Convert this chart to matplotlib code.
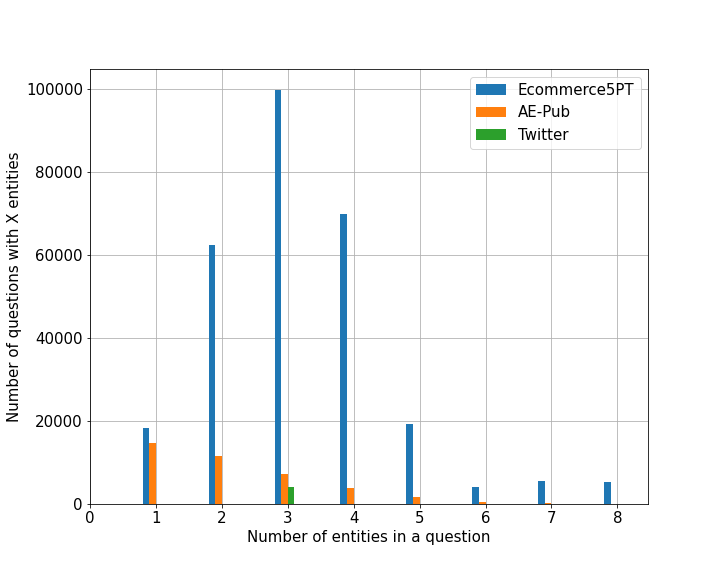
import matplotlib
matplotlib.use("Agg")
import matplotlib.pyplot as plt
import numpy as np

entities = [1, 2, 3, 4, 5, 6, 7, 8]
ecommerce = [18400, 62400, 99900, 69900, 19350, 4100, 5550, 5300]
ae_pub = [14750, 11600, 7250, 3870, 1700, 480, 240, 0]
twitter = [0, 0, 4100, 0, 0, 0, 0, 0]

plt.rcParams["font.size"] = 15

fig, ax = plt.subplots(figsize=(10, 8), dpi=72)
fig.subplots_adjust(bottom=0.125)

x = np.array(entities)
w = 0.1
ax.bar(x - 0.15, ecommerce, width=w, label="Ecommerce5PT", zorder=3)
ax.bar(x - 0.05, ae_pub, width=w, label="AE-Pub", zorder=3)
ax.bar(x + 0.05, twitter, width=w, label="Twitter", zorder=3)

ax.set_xlim(left=0)
ax.set_xticks(range(0, 9))
ax.grid(True, color="#b0b0b0")
ax.set_axisbelow(True)
ax.set_xlabel("Number of entities in a question")
ax.set_ylabel("Number of questions with X entities")
ax.legend(loc="upper right")

plt.savefig("out.png", dpi=72)
